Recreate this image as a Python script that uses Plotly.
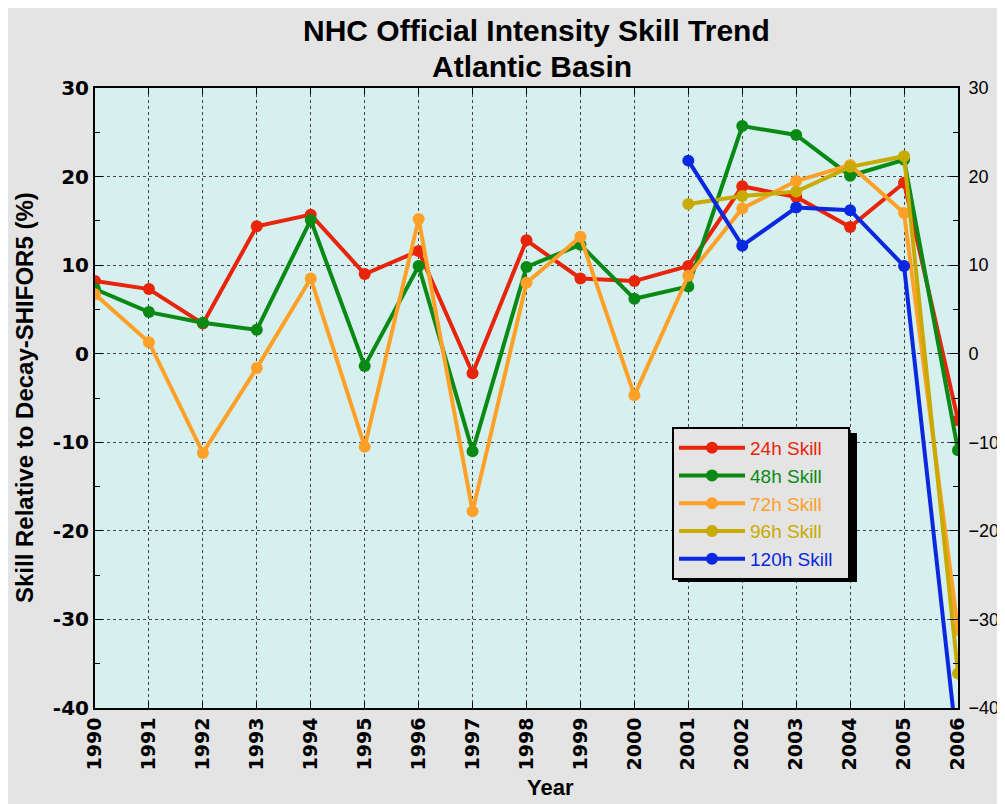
import plotly.graph_objects as go

years = list(range(1990, 2007))
skill_24h = [8.2, 7.3, 3.4, 14.4, 15.7, 9.0, 11.6, -2.2, 12.8, 8.5, 8.2, 9.9, 18.9, 17.7, 14.3, 19.3, -7.5]
skill_48h = [7.3, 4.7, 3.5, 2.7, 15.1, -1.4, 9.9, -11.0, 9.8, 12.3, 6.2, 7.6, 25.7, 24.7, 20.1, 21.9, -10.9]
skill_72h = [6.7, 1.3, -11.2, -1.6, 8.5, -10.5, 15.2, -17.8, 8.0, 13.2, -4.7, 8.8, 16.4, 19.5, 21.3, 15.9, -31.2]
years_ext = list(range(2001, 2007))
skill_96h = [16.9, 17.8, 18.3, 21.1, 22.3, -36.1]
skill_120h = [21.8, 12.2, 16.5, 16.2, 9.9, -45.2]
y_ticks = list(range(-40, 31, 10))

series = [
    ("24h Skill", years, skill_24h, "#e8250a"),
    ("48h Skill", years, skill_48h, "#0a8a14"),
    ("72h Skill", years, skill_72h, "#ffa028"),
    ("96h Skill", years_ext, skill_96h, "#c8aa00"),
    ("120h Skill", years_ext, skill_120h, "#0a28e0"),
]

NARROW = "Liberation Sans Narrow, Arial Narrow, Liberation Sans, Arial"
SANS = "Liberation Sans, Arial"
WIDE = "DejaVu Sans, Verdana"

fig = go.Figure()
for i, (name, xs, ys, col) in enumerate(series):
    label = name + ("&nbsp;&nbsp;" if i == len(series) - 1 else "")
    fig.add_trace(go.Scatter(
        x=xs, y=ys, mode="lines+markers",
        name=f"<span style='color:{col}'>{label}</span>",
        line=dict(color=col, width=4),
        marker=dict(color=col, size=12),
        cliponaxis=True,
    ))

# invisible trace so the right axis is drawn
fig.add_trace(go.Scatter(x=[years[0]], y=[0], yaxis="y2", mode="markers",
                         marker=dict(opacity=0), showlegend=False, hoverinfo="skip"))

# page body has an 8px margin: figure pixel = screen pixel - 8
OFF = 8
W, H = 1005 - OFF, 804 - OFF
ml, mr, mt, mb = 95 - OFF, 1005 - 958, 88 - OFF, 804 - 708
pw, ph = W - ml - mr, H - mt - mb

def px_x(x):
    return (x - OFF - ml) / pw

def px_y(y):
    return (H - mb - (y - OFF)) / ph

# legend geometry (screen pixels)
lx, ly = 672, 427
lw, lh = 180, 150
fig.add_shape(type="rect", xref="paper", yref="paper",
              x0=px_x(lx + 6), x1=px_x(lx + lw + 5),
              y0=px_y(ly + lh + 5), y1=px_y(ly + 6),
              fillcolor="black", line=dict(width=0), layer="above")

annotations = [
    dict(text="<b>NHC Official Intensity Skill Trend</b>", x=px_x(536), y=px_y(30),
         font=dict(family=NARROW, size=30, color="black")),
    dict(text="<b>Atlantic Basin</b>", x=px_x(532), y=px_y(67),
         font=dict(family=NARROW, size=30, color="black")),
    dict(text="<b>Year</b>", x=px_x(550), y=px_y(788),
         font=dict(family=SANS, size=22, color="black")),
    dict(text="<b>Skill Relative to Decay-SHIFOR5 (%)</b>", x=px_x(24), y=px_y(398),
         textangle=-90, font=dict(family=SANS, size=24, color="black")),
]
for a in annotations:
    a.update(xref="paper", yref="paper", showarrow=False, xanchor="center", yanchor="middle")

fig.update_layout(
    width=W, height=H,
    margin=dict(l=ml, r=mr, t=mt, b=mb, autoexpand=False),
    paper_bgcolor="#e4e4e4",
    plot_bgcolor="#d5f0ef",
    font=dict(family=SANS, color="black"),
    annotations=annotations,
    showlegend=True,
    legend=dict(x=px_x(lx), y=px_y(ly), xanchor="left", yanchor="top",
                bgcolor="#e4e4e4", bordercolor="black", borderwidth=2,
                font=dict(size=19, family=SANS), itemwidth=66, tracegroupgap=0),
    xaxis=dict(range=[1990, 2006], tickvals=years, ticktext=[f"<b>{y}</b>" for y in years],
               tickangle=-90, tickfont=dict(size=19, family=WIDE),
               showgrid=True, gridcolor="#444444", griddash="dot", gridwidth=1,
               showline=True, linecolor="black", linewidth=2, mirror="ticks",
               ticks="inside", ticklen=6, tickcolor="black",
               automargin=False, zeroline=False),
    yaxis=dict(range=[-40, 30], tickvals=y_ticks, ticktext=[f"<b>{v}</b>" for v in y_ticks],
               tickfont=dict(size=20, family=WIDE),
               showgrid=True, gridcolor="#444444", griddash="dot", gridwidth=1,
               showline=True, linecolor="black", linewidth=2,
               ticks="inside", ticklen=8, tickcolor="black",
               minor=dict(dtick=5, ticks="inside", ticklen=5, tickcolor="black"),
               automargin=False, zeroline=False),
    yaxis2=dict(range=[-40, 30], tickvals=y_ticks, overlaying="y", side="right",
                tickfont=dict(size=18, family=SANS), showgrid=False,
                showline=True, linecolor="black", linewidth=2,
                ticks="inside", ticklen=8, tickcolor="black", ticklabelstandoff=5,
                minor=dict(dtick=5, ticks="inside", ticklen=5, tickcolor="black"),
                automargin=False, zeroline=False),
)

fig.write_html("out.html")
